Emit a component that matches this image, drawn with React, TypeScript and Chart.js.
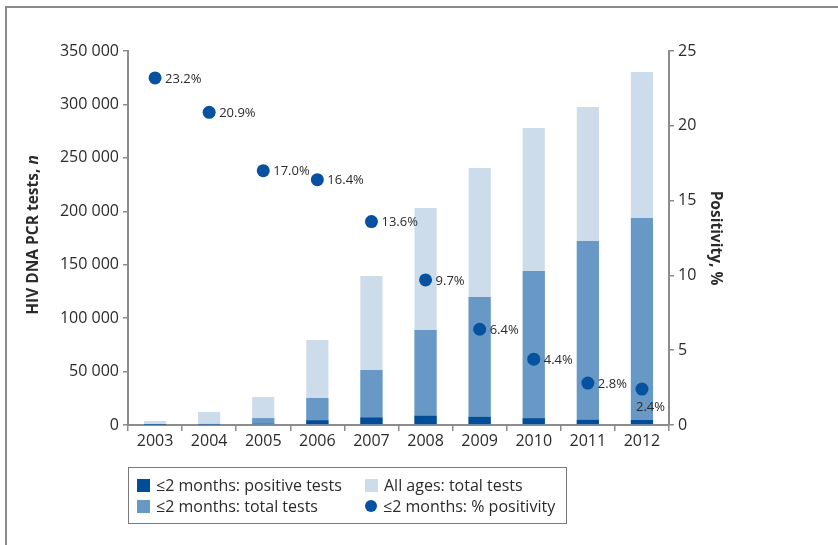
import React, { useEffect, useRef } from "react";
import { Chart, registerables } from "chart.js";

Chart.register(...registerables);

const years = ["2003", "2004", "2005", "2006", "2007", "2008", "2009", "2010", "2011", "2012"];
const allAgesTotal = [3700, 12200, 26200, 79500, 139400, 203000, 240500, 278000, 297600, 330300];
const under2Total = [400, 1000, 6500, 25300, 51500, 88900, 119800, 144100, 172200, 193700];
const under2Positive = [100, 250, 1100, 4400, 7000, 8600, 7600, 6300, 4800, 4700];
const positivity = [23.2, 20.9, 17.0, 16.4, 13.6, 9.7, 6.4, 4.4, 2.8, 2.4];

const FONT = "'Open Sans', 'Noto Sans', sans-serif";
const C_DARK = "#024d98";
const C_MED = "#6898c5";
const C_LIGHT = "#cddcea";
const C_DOT = "#0651a0";
const AXIS = "#8c8c8c";
const TXT = "#2b2b2b";

const fmt = (v: number) => String(v).replace(/\B(?=(\d{3})+(?!\d))/g, " ");

const customPlugin = {
  id: "custom",
  afterDatasetsDraw(chart: any) {
    const ctx = chart.ctx;
    const meta = chart.getDatasetMeta(0);
    ctx.save();
    ctx.font = `13px ${FONT}`;
    ctx.fillStyle = TXT;
    ctx.textBaseline = "middle";
    meta.data.forEach((pt: any, i: number) => {
      const label = positivity[i].toFixed(1) + "%";
      ctx.textAlign = "left";
      if (i === positivity.length - 1) {
        ctx.fillText(label, pt.x - 6, pt.y + 18);
      } else {
        ctx.fillText(label, pt.x + 10, pt.y + 1);
      }
    });
    ctx.restore();
  },
  afterDraw(chart: any) {
    const ctx = chart.ctx;
    const area = chart.chartArea;
    const cy = (area.top + area.bottom) / 2 - 3;
    ctx.save();
    ctx.translate(34, cy);
    ctx.rotate(-Math.PI / 2);
    ctx.fillStyle = TXT;
    ctx.textBaseline = "middle";
    const part1 = "HIV DNA PCR tests, ";
    const part2 = "n";
    ctx.font = `bold 15.5px ${FONT}`;
    const w1 = ctx.measureText(part1).width;
    ctx.font = `italic bold 15.5px ${FONT}`;
    const w2 = ctx.measureText(part2).width;
    const start = -(w1 + w2) / 2;
    ctx.textAlign = "left";
    ctx.font = `bold 15.5px ${FONT}`;
    ctx.fillText(part1, start, 0);
    ctx.font = `italic bold 15.5px ${FONT}`;
    ctx.fillText(part2, start + w1, 0);
    ctx.restore();
  },
};

function LegendItem({ kind, color, label }: { kind: "box" | "dot"; color: string; label: string }) {
  return (
    <div style={{ display: "flex", alignItems: "center", height: 21 }}>
      <span
        style={{
          display: "inline-block",
          width: kind === "dot" ? 12 : 13,
          height: kind === "dot" ? 12 : 13,
          borderRadius: kind === "dot" ? "50%" : 0,
          background: color,
          marginRight: 6,
        }}
      />
      <span>{label}</span>
    </div>
  );
}

export default function App() {
  const ref = useRef<HTMLCanvasElement | null>(null);

  useEffect(() => {
    if (!ref.current) return;
    const chart = new Chart(ref.current, {
      type: "bar",
      data: {
        labels: years,
        datasets: [
          {
            type: "line",
            label: "≤2 months: % positivity",
            data: positivity,
            yAxisID: "y1",
            showLine: false,
            pointRadius: 6.5,
            pointHoverRadius: 6.5,
            pointBackgroundColor: C_DOT,
            pointBorderColor: C_DOT,
            pointBorderWidth: 0,
            backgroundColor: C_DOT,
            borderColor: C_DOT,
          } as any,
          {
            label: "≤2 months: positive tests",
            data: under2Positive,
            yAxisID: "y",
            backgroundColor: C_DARK,
            grouped: false,
            barPercentage: 0.41,
            categoryPercentage: 1,
          },
          {
            label: "≤2 months: total tests",
            data: under2Total,
            yAxisID: "y",
            backgroundColor: C_MED,
            grouped: false,
            barPercentage: 0.41,
            categoryPercentage: 1,
          },
          {
            label: "All ages: total tests",
            data: allAgesTotal,
            yAxisID: "y",
            backgroundColor: C_LIGHT,
            grouped: false,
            barPercentage: 0.41,
            categoryPercentage: 1,
          },
        ],
      },
      options: {
        animation: false,
        responsive: false,
        maintainAspectRatio: false,
        layout: { padding: { left: 0, right: 113, top: 51, bottom: 90 } },
        plugins: {
          legend: { display: false },
          tooltip: { enabled: false },
        },
        scales: {
          x: {
            offset: true,
            grid: {
              display: true,
              offset: true,
              drawOnChartArea: false,
              drawTicks: true,
              tickLength: 6,
              color: AXIS,
              lineWidth: 1.5,
            },
            border: { color: AXIS, width: 2 },
            ticks: { color: TXT, font: { family: FONT, size: 16 }, padding: 1 },
            afterFit: (s: any) => {
              s.height = 30;
            },
          },
          y: {
            position: "left",
            min: 0,
            max: 350000,
            ticks: {
              stepSize: 50000,
              color: TXT,
              font: { family: FONT, size: 16 },
              padding: 4,
              callback: (v: any) => fmt(Number(v)),
            },
            grid: {
              drawOnChartArea: false,
              drawTicks: true,
              tickLength: 5,
              color: AXIS,
              lineWidth: 1.5,
            },
            border: { color: AXIS, width: 2 },
            afterFit: (s: any) => {
              s.width = 128;
            },
          },
          y1: {
            position: "right",
            min: 0,
            max: 25,
            ticks: {
              stepSize: 5,
              color: TXT,
              font: { family: FONT, size: 16 },
              padding: 4,
            },
            grid: {
              drawOnChartArea: false,
              drawTicks: true,
              tickLength: 5,
              color: AXIS,
              lineWidth: 1.5,
            },
            border: { color: AXIS, width: 2 },
            title: {
              display: true,
              text: "Positivity, %",
              color: TXT,
              font: { family: FONT, size: 15.5, weight: "bold" },
              padding: { top: 0, bottom: 0 },
            },
            afterFit: (s: any) => {
              s.width = 56;
            },
          },
        },
      },
      plugins: [customPlugin],
    });
    return () => chart.destroy();
  }, []);

  return (
    <div
      style={{
        position: "absolute",
        left: 0,
        top: 0,
        width: 838,
        height: 545,
        background: "#fff",
        overflow: "hidden",
        fontFamily: FONT,
      }}
    >
      <div style={{ position: "absolute", left: 5, top: 6, width: 833, height: 1.5, background: "#8a8a8a" }} />
      <div style={{ position: "absolute", left: 5, top: 6, width: 1.5, height: 539, background: "#8a8a8a" }} />
      <canvas ref={ref} width={838} height={545} style={{ position: "absolute", left: 0, top: 0 }} />
      <div
        style={{
          position: "absolute",
          left: 128,
          top: 467,
          width: 437,
          height: 55,
          border: "1px solid #7a7a7a",
          boxSizing: "content-box",
          color: TXT,
          fontSize: 16,
          display: "grid",
          gridTemplateColumns: "236px 201px",
          alignContent: "center",
        }}
      >
        <div style={{ paddingLeft: 8 }}>
          <LegendItem kind="box" color={C_DARK} label="≤2 months: positive tests" />
        </div>
        <div>
          <LegendItem kind="box" color={C_LIGHT} label="All ages: total tests" />
        </div>
        <div style={{ paddingLeft: 8 }}>
          <LegendItem kind="box" color={C_MED} label="≤2 months: total tests" />
        </div>
        <div>
          <LegendItem kind="dot" color={C_DOT} label="≤2 months: % positivity" />
        </div>
      </div>
    </div>
  );
}
